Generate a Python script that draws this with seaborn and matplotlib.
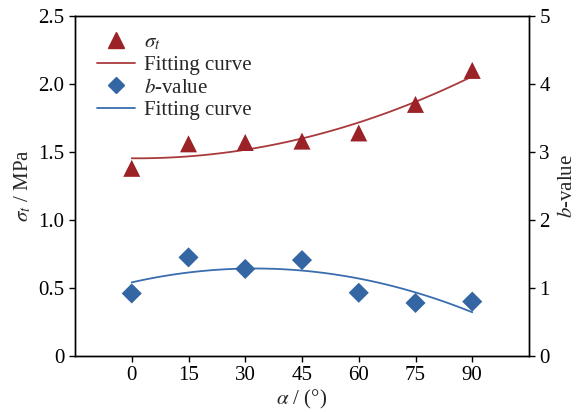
import numpy as np
import pandas as pd
import matplotlib
matplotlib.use("Agg")
import matplotlib.pyplot as plt
import seaborn as sns
from matplotlib.lines import Line2D

# Data
alpha = [0, 15, 30, 45, 60, 75, 90]
sigma_t = [1.38, 1.56, 1.57, 1.58, 1.64, 1.85, 2.10]
b_value = [0.92, 1.45, 1.28, 1.41, 0.93, 0.78, 0.80]
xticks = [0, 15, 30, 45, 60, 75, 90]
yticks_left = [0, 0.5, 1.0, 1.5, 2.0, 2.5]
yticks_right = [0, 1, 2, 3, 4, 5]

red = "#9B2226"
red_line = "#A83A3C"
blue = "#3466A3"
blue_line = "#3A6DB0"

sns.set_style("ticks")
plt.rcParams["font.family"] = ["Liberation Serif", "DejaVu Serif"]
plt.rcParams["mathtext.fontset"] = "stix"
plt.rcParams["font.size"] = 15
plt.rcParams["axes.linewidth"] = 1.0

FS = 15

df = pd.DataFrame({"alpha": alpha, "sigma": sigma_t, "b": b_value})

fig = plt.figure(figsize=(5.8, 4.12), dpi=100)
ax = fig.add_axes([75/580, 1-356/412, (529-75)/580, (356-16)/412])
ax2 = ax.twinx()

sns.regplot(data=df, x="alpha", y="sigma", order=2, ci=None, scatter=False,
            ax=ax, color=red_line, line_kws={"lw": 1.3})
sns.scatterplot(data=df, x="alpha", y="sigma", marker="^", s=150, color=red,
                edgecolor="none", ax=ax, zorder=3)

sns.regplot(data=df, x="alpha", y="b", order=2, ci=None, scatter=False,
            ax=ax2, color=blue_line, line_kws={"lw": 1.3})
sns.scatterplot(data=df, x="alpha", y="b", marker="D", s=105, color=blue,
                edgecolor="none", ax=ax2, zorder=3)

ax.set_xlim(-15, 105)
ax.set_ylim(0, 2.5)
ax2.set_ylim(0, 5)
ax.set_xticks(xticks)
ax.set_xticklabels([str(v) for v in xticks])
ax.set_yticks(yticks_left)
ax.set_yticklabels(["0", "0.5", "1.0", "1.5", "2.0", "2.5"])
ax2.set_yticks(yticks_right)
ax2.set_yticklabels([str(v) for v in yticks_right])

ax.set_xlabel(r"$\alpha$ / (°)", fontsize=FS, labelpad=2)
ax.set_ylabel(r"$\sigma_t$ / MPa", fontsize=FS, labelpad=4)
ax2.set_ylabel(r"$b$-value", fontsize=FS, labelpad=6)

for a in (ax, ax2):
    a.tick_params(direction="out", length=4, width=1.0, labelsize=FS, colors="black")
    for s in a.spines.values():
        s.set_visible(True)
        s.set_color("black")
        s.set_linewidth(1.0)

handles = [
    Line2D([], [], marker="^", color=red, ls="none", markersize=11),
    Line2D([], [], color=red_line, lw=1.3),
    Line2D([], [], marker="D", color=blue, ls="none", markersize=8.5),
    Line2D([], [], color=blue_line, lw=1.3),
]
labels = [r"$\sigma_t$", "Fitting curve", r"$b$-value", "Fitting curve"]
ax2.legend(handles, labels, loc="upper left", bbox_to_anchor=(0.012, 1.0),
           frameon=False, fontsize=FS, handlelength=1.8, labelspacing=0.15,
           handletextpad=0.45, borderaxespad=0.4)

fig.savefig("out.png", dpi=100)
